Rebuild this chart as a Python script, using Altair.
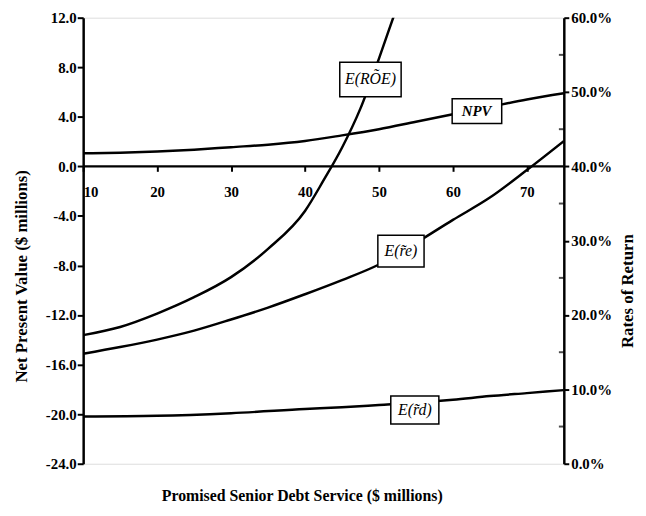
import altair as alt
import pandas as pd

# x: promised senior debt service ($ millions)
npv_x = [10, 15, 20, 25, 30, 35, 40, 45, 50, 55, 60, 65, 70, 75]
npv_y = [1.05, 1.1, 1.2, 1.35, 1.55, 1.75, 2.05, 2.5, 3.0, 3.6, 4.2, 4.8, 5.4, 5.9]

roe_x = [10, 15, 20, 25, 30, 35, 40, 42.5, 45, 47.5, 50, 52, 53]
roe_y = [0.173, 0.184, 0.202, 0.224, 0.251, 0.289, 0.340, 0.381, 0.425, 0.478, 0.545, 0.602, 0.63]

re_x = [10, 15, 20, 25, 30, 35, 40, 45, 50, 55, 60, 65, 70, 75]
re_y = [0.148, 0.157, 0.167, 0.179, 0.194, 0.210, 0.228, 0.247, 0.268, 0.297, 0.328, 0.358, 0.395, 0.434]

rd_x = [10, 20, 30, 40, 45, 50, 55, 60, 65, 70, 75]
rd_y = [0.0635, 0.0645, 0.068, 0.0735, 0.076, 0.079, 0.082, 0.086, 0.091, 0.095, 0.099]

# right-axis tick values
rate_major = [0.0, 0.1, 0.2, 0.3, 0.4, 0.5, 0.6]
rate_minor = [0.05, 0.15, 0.25, 0.35, 0.45, 0.55]

# curve labels (boxed annotations)
npv_lab = ["NPV"]
rate_lab = ["E(RÕE)", "E(r̃e)", "E(r̃d)"]

npv_box = pd.DataFrame({"label": npv_lab, "x1": [59.9], "x2": [66.6], "y1": [3.46], "y2": [5.45],
                        "xc": [63.2], "yc": [4.45]})
rate_box = pd.DataFrame({"label": rate_lab,
                         "x1": [44.7, 49.85, 51.6], "x2": [53.0, 56.1, 58.1],
                         "y1": [0.4936, 0.2645, 0.0534], "y2": [0.5402, 0.3073, 0.0911],
                         "xc": [48.85, 52.98, 54.85], "yc": [0.517, 0.2859, 0.0722]})

npv_df = pd.DataFrame({"x": npv_x, "y": npv_y})
rate_df = pd.concat([
    pd.DataFrame({"x": roe_x, "r": roe_y, "s": "ROE"}),
    pd.DataFrame({"x": re_x, "r": re_y, "s": "re"}),
    pd.DataFrame({"x": rd_x, "r": rd_y, "s": "rd"}),
])
minor_df = pd.DataFrame({"x": [75] * len(rate_minor), "r": rate_minor})

FONT = "Liberation Serif"
W, H = 486, 451
zero_offset = -H * 24 / 36

xscale = alt.Scale(domain=[10, 75], nice=False, zero=False)
xaxis = alt.Axis(
    values=list(range(10, 80, 5)),
    labelExpr="datum.value % 10 === 0 ? datum.label : ''",
    offset=zero_offset, domain=False, grid=False,
    tickSize=5, tickWidth=2, tickColor="black",
    labelPadding=13, labelFont=FONT, labelFontSize=15, labelFontWeight="bold", labelColor="black",
    title="Promised Senior Debt Service ($ millions)",
    titleX=221, titleY=-zero_offset + 24, titleFont=FONT, titleFontSize=16, titleFontWeight="bold",
    titleColor="black",
)
yaxis_left = alt.Axis(
    values=list(range(-24, 13, 1)),
    labelExpr="datum.value % 4 === 0 ? replace(format(datum.value, '.1f'), '\u2212', '-') : ''",
    orient="left", grid=False, domainColor="black", domainWidth=2.5,
    tickSize=6, tickWidth=2, tickColor="black", labelPadding=1,
    labelFont=FONT, labelFontSize=15, labelFontWeight="bold", labelColor="black",
    title="Net Present Value  ($ millions)", titlePadding=15, titleY=261,
    titleFont=FONT, titleFontSize=17, titleFontWeight="bold", titleColor="black",
)
yaxis_right = alt.Axis(
    values=rate_major, format=".1%",
    orient="right", grid=False, domainColor="black", domainWidth=2.5,
    tickSize=5, tickWidth=2, tickColor="black", labelPadding=2,
    labelFont=FONT, labelFontSize=15, labelFontWeight="bold", labelColor="black",
    title="Rates of Return", titlePadding=8, titleAngle=270, titleBaseline="top", titleY=276,
    titleFont=FONT, titleFontSize=17, titleFontWeight="bold", titleColor="black",
)

yl = alt.Scale(domain=[-24, 12], nice=False, zero=False)
yr = alt.Scale(domain=[0, 0.6], nice=False, zero=False)

zero_line = alt.Chart(pd.DataFrame({"v": [0]})).mark_rule(color="black", strokeWidth=2.5).encode(
    y=alt.Y("v:Q", scale=yl, axis=yaxis_left)
)
npv_line = alt.Chart(npv_df).mark_line(color="black", strokeWidth=2.5, interpolate="monotone").encode(
    x=alt.X("x:Q", scale=xscale, axis=xaxis),
    y=alt.Y("y:Q", scale=yl, axis=yaxis_left),
)
npv_rect = alt.Chart(npv_box).mark_rect(fill="white", stroke="black", strokeWidth=1.5).encode(
    x=alt.X("x1:Q", scale=xscale), x2="x2:Q",
    y=alt.Y("y1:Q", scale=yl), y2="y2:Q",
)
npv_text = alt.Chart(npv_box).mark_text(font=FONT, fontSize=15, fontStyle="italic", fontWeight="bold",
                                        color="black").encode(
    x=alt.X("xc:Q", scale=xscale), y=alt.Y("yc:Q", scale=yl), text="label:N"
)
left = alt.layer(zero_line, npv_line, npv_rect, npv_text)

rate_lines = alt.Chart(rate_df).mark_line(color="black", strokeWidth=2.5, clip=True,
                                          interpolate="monotone").encode(
    x=alt.X("x:Q", scale=xscale),
    y=alt.Y("r:Q", scale=yr, axis=yaxis_right),
    detail="s:N",
)
minor_ticks = alt.Chart(minor_df).mark_tick(orient="horizontal", size=5, thickness=2, color="black",
                                            xOffset=-2.5).encode(
    x=alt.X("x:Q", scale=xscale),
    y=alt.Y("r:Q", scale=yr, axis=yaxis_right),
)
rate_rect = alt.Chart(rate_box).mark_rect(fill="white", stroke="black", strokeWidth=1.5).encode(
    x=alt.X("x1:Q", scale=xscale), x2="x2:Q",
    y=alt.Y("y1:Q", scale=yr, axis=yaxis_right), y2="y2:Q",
)
rate_text = alt.Chart(rate_box).mark_text(font=FONT, fontSize=16, fontStyle="italic",
                                          color="black").encode(
    x=alt.X("xc:Q", scale=xscale), y=alt.Y("yc:Q", scale=yr, axis=yaxis_right), text="label:N"
)
right = alt.layer(rate_lines, minor_ticks, rate_rect, rate_text)

chart = alt.layer(left, right).resolve_scale(y="independent").properties(
    width=W, height=H, padding={"left": 4, "top": 0, "right": 2, "bottom": 5}
).configure_view(stroke="black", strokeWidth=2.5).configure(background="white")

chart.save("out.html", embed_options={"renderer": "svg", "actions": False})
